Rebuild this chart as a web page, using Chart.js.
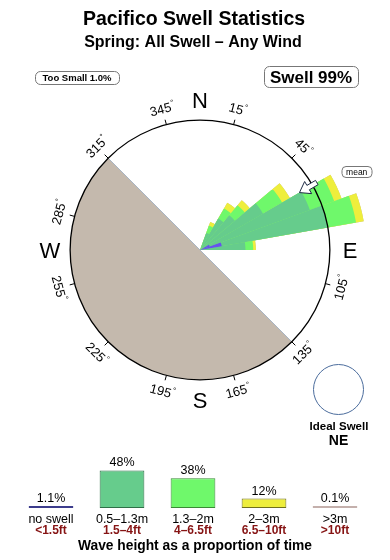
<!DOCTYPE html>
<html>
<head>
<meta charset="utf-8">
<script src="https://cdn.jsdelivr.net/npm/chart.js@4.4.0/dist/chart.umd.min.js"></script>
<style>
  html, body { margin: 0; padding: 0; background: #fff; overflow: hidden; }
  #wrap { position: relative; width: 390px; height: 560px; overflow: hidden; }
  #rose { position: absolute; left: 0; top: 0; }
  #bars { position: absolute; left: 0; top: 440px; }
</style>
</head>
<body>
<div id="wrap">
  <canvas id="rose" width="400" height="501"></canvas>
  <canvas id="bars" width="390" height="120"></canvas>
</div>
<script>
// direction bins (10 degrees each, from north, clockwise)
const directions = [0, 10, 20, 30, 40, 50, 60, 70, 80, 90, 100, 110,
  120, 130, 140, 150, 160, 170, 180, 190, 200, 210, 220, 230,
  240, 250, 260, 270, 280, 290, 300, 310, 320, 330, 340, 350];

// radial length of each height band per bin (compass ring = 100)
const noSwell = [0, 0, 0, 0, 0, 0, 8, 17, 0, 0, 0, 0, 0, 0, 0, 0, 0, 0, 0, 0, 0, 0, 0, 0, 0, 0, 0, 0, 0, 0, 0, 0, 0, 0, 0, 0];
const band1 = [0, 0, 14, 28, 35, 56, 82, 83, 35, 0, 0, 0, 0, 0, 0, 0, 0, 0, 0, 0, 0, 0, 0, 0, 0, 0, 0, 0, 0, 0, 0, 0, 0, 0, 0, 0];
const band2 = [0, 0, 6, 9, 10, 17, 20, 22, 6, 0, 0, 0, 0, 0, 0, 0, 0, 0, 0, 0, 0, 0, 0, 0, 0, 0, 0, 0, 0, 0, 0, 0, 0, 0, 0, 0];
const band3 = [0, 0, 3, 5, 5, 7, 6, 6, 2, 0, 0, 0, 0, 0, 0, 0, 0, 0, 0, 0, 0, 0, 0, 0, 0, 0, 0, 0, 0, 0, 0, 0, 0, 0, 0, 0];
const band4 = [0, 0, 0, 0, 0, 0, 0, 0, 0, 0, 0, 0, 0, 0, 0, 0, 0, 0, 0, 0, 0, 0, 0, 0, 0, 0, 0, 0, 0, 0, 0, 0, 0, 0, 0, 0];

const meanDir = 60;
const landFrom = 135, landTo = 315;
const degTicks = [15, 45, 75, 105, 135, 165, 195, 225, 255, 285, 315, 345];
const compass = ['N', 'E', 'S', 'W'];

// legend: wave height as a proportion of time
const heightBands = ['no swell', '0.5\u20131.3m', '1.3\u20132m', '2\u20133m', '>3m'];
const heightFeet = ['<1.5ft', '1.5\u20134ft', '4\u20136.5ft', '6.5\u201310ft', '>10ft'];
const heightShare = [1.1, 48, 38, 12, 0.1];
const shareLabels = ['1.1%', '48%', '38%', '12%', '0.1%'];

const wedgeColors = ['#6652ee', '#66cc8c', '#6ff86b', '#eeee3c', '#c4b4ac'];
const barColors = ['#3c3c8c', '#66cc8c', '#6ff86b', '#eeee3c', '#c4b0ac'];
const barBorders = ['#3c3c8c', '#2f7048', '#3a8a36', '#70701c', '#c4b0ac'];

const FONT = '"Liberation Sans", Arial, Helvetica, sans-serif';
const RING = 100;

function txt(ctx, s, x, y, font, color, align) {
  ctx.font = font;
  ctx.fillStyle = color || '#000';
  ctx.textAlign = align || 'center';
  ctx.textBaseline = 'alphabetic';
  ctx.fillText(s, x, y);
}

function box(ctx, x, y, w, h, r) {
  ctx.beginPath();
  ctx.roundRect(x + 0.5, y + 0.5, w, h, r);
  ctx.fillStyle = '#fff';
  ctx.fill();
  ctx.strokeStyle = '#777';
  ctx.lineWidth = 1;
  ctx.stroke();
}

// stack the bands so each dataset reaches to the outer edge of its band
const layers = [noSwell, band1, band2, band3, band4];
const stacked = [];
let run = directions.map(() => 0);
layers.forEach(l => {
  run = run.map((v, i) => v + l[i]);
  stacked.push(run.slice());
});

const rad = d => (d - 90) * Math.PI / 180;

const rosePlugin = {
  id: 'rose',
  beforeDatasetsDraw(chart) {
    const ctx = chart.ctx;
    const s = chart.scales.r;
    const cx = s.xCenter, cy = s.yCenter;
    const R = s.getDistanceFromCenterForValue(RING);
    ctx.save();
    // land
    ctx.beginPath();
    ctx.moveTo(cx, cy);
    ctx.arc(cx, cy, R, rad(landFrom), rad(landTo));
    ctx.closePath();
    ctx.fillStyle = '#c4b9ad';
    ctx.fill();
    ctx.beginPath();
    ctx.moveTo(cx + Math.cos(rad(landFrom)) * R, cy + Math.sin(rad(landFrom)) * R);
    ctx.lineTo(cx + Math.cos(rad(landTo)) * R, cy + Math.sin(rad(landTo)) * R);
    ctx.strokeStyle = '#a9b5c4';
    ctx.lineWidth = 1;
    ctx.stroke();

    // ticks and degree labels
    ctx.strokeStyle = '#000';
    degTicks.forEach(d => {
      const a = rad(d);
      ctx.beginPath();
      ctx.moveTo(cx + Math.cos(a) * R, cy + Math.sin(a) * R);
      ctx.lineTo(cx + Math.cos(a) * (R + 5), cy + Math.sin(a) * (R + 5));
      ctx.stroke();
      const lx = cx + Math.cos(a) * 146, ly = cy + Math.sin(a) * 146;
      const rot = ((d + 90) % 180) - 90;
      ctx.save();
      ctx.translate(lx, ly);
      ctx.rotate(rot * Math.PI / 180);
      ctx.font = '13px ' + FONT;
      const w1 = ctx.measureText(String(d)).width;
      ctx.font = '8px ' + FONT;
      const w2 = ctx.measureText('\u00b0').width;
      const x0 = -(w1 + w2) / 2;
      txt(ctx, String(d), x0, 4.5, '13px ' + FONT, '#000', 'left');
      txt(ctx, '\u00b0', x0 + w1 + 0.5, -1, '8px ' + FONT, '#000', 'left');
      ctx.restore();
    });

    // compass letters
    compass.forEach((c, i) => {
      const a = rad(i * 90);
      txt(ctx, c, cx + Math.cos(a) * 150, cy + Math.sin(a) * 150 + 8, '22px ' + FONT);
    });
    ctx.restore();
  },
  afterDatasetsDraw(chart) {
    const ctx = chart.ctx;
    const s = chart.scales.r;
    const cx = s.xCenter, cy = s.yCenter;
    const R = s.getDistanceFromCenterForValue(RING);
    ctx.save();
    ctx.beginPath();
    ctx.arc(cx, cy, R, 0, Math.PI * 2);
    ctx.strokeStyle = '#000';
    ctx.lineWidth = 1.3;
    ctx.stroke();

    // mean direction arrow
    const a = rad(meanDir);
    const ux = Math.cos(a), uy = Math.sin(a);
    const nx = -uy, ny = ux;
    const p = (r, w) => [cx + ux * r + nx * w, cy + uy * r + ny * w];
    const pts = [p(R - 15, 0), p(R - 5, 7), p(R - 5, 2.5), p(R + 5, 2.5),
      p(R + 5, -2.5), p(R - 5, -2.5), p(R - 5, -7)];
    ctx.beginPath();
    pts.forEach((q, i) => i ? ctx.lineTo(q[0], q[1]) : ctx.moveTo(q[0], q[1]));
    ctx.closePath();
    ctx.fillStyle = '#fff';
    ctx.fill();
    ctx.strokeStyle = '#1d2a44';
    ctx.lineWidth = 1;
    ctx.stroke();

    box(ctx, 341.5, 166, 30, 11, 4);
    txt(ctx, 'mean', 356.7, 174.8, '8.5px ' + FONT);
    ctx.restore();
  },
  afterDraw(chart) {
    const ctx = chart.ctx;
    ctx.save();
    txt(ctx, 'Pacifico Swell Statistics', 194, 25, 'bold 19.5px ' + FONT);
    txt(ctx, 'Spring: All Swell \u2013 Any Wind', 193, 47, 'bold 16px ' + FONT);

    box(ctx, 35, 71, 84, 13, 5);
    txt(ctx, 'Too Small 1.0%', 77, 81, 'bold 9.5px ' + FONT);
    box(ctx, 264, 66, 94, 21, 5);
    txt(ctx, 'Swell 99%', 311, 82.5, 'bold 17px ' + FONT);

    // ideal swell marker
    ctx.beginPath();
    ctx.arc(338.5, 389.5, 25, 0, Math.PI * 2);
    ctx.strokeStyle = '#4b6c9c';
    ctx.lineWidth = 1;
    ctx.stroke();
    txt(ctx, 'Ideal Swell', 339, 429.5, 'bold 11.5px ' + FONT);
    txt(ctx, 'NE', 338.5, 445, 'bold 14px ' + FONT);
    ctx.restore();
  }
};

new Chart(document.getElementById('rose'), {
  type: 'polarArea',
  data: {
    labels: directions,
    datasets: layers.map((l, i) => ({
      data: stacked[i],
      backgroundColor: wedgeColors[i],
      borderWidth: 0
    }))
  },
  options: {
    responsive: false,
    animation: false,
    layout: { padding: 0 },
    plugins: { legend: { display: false }, tooltip: { enabled: false } },
    scales: {
      r: { display: false, min: 0, max: 154, startAngle: 0 }
    }
  },
  plugins: [rosePlugin]
});

const barLabels = {
  id: 'barLabels',
  afterDatasetsDraw(chart) {
    const ctx = chart.ctx;
    const meta = chart.getDatasetMeta(0);
    ctx.save();
    meta.data.forEach((bar, i) => {
      const top = Math.min(bar.y, bar.base - 2);
      txt(ctx, shareLabels[i], bar.x, top - 4, '12.5px ' + FONT);
      txt(ctx, heightBands[i], bar.x, 83, '12.5px ' + FONT);
      txt(ctx, heightFeet[i], bar.x, 93.6, 'bold 12px ' + FONT, '#861414');
    });
    txt(ctx, 'Wave height as a proportion of time', 195, 110, 'bold 13.8px ' + FONT);
    ctx.restore();
  }
};

new Chart(document.getElementById('bars'), {
  type: 'bar',
  data: {
    labels: heightBands,
    datasets: [{
      data: heightShare,
      backgroundColor: barColors,
      borderColor: barBorders,
      borderWidth: 1,
      borderSkipped: false,
      minBarLength: 2,
      barPercentage: 0.63,
      categoryPercentage: 1
    }]
  },
  options: {
    responsive: false,
    animation: false,
    layout: { padding: { left: 15.5, right: 19.5, top: 21, bottom: 52 } },
    plugins: { legend: { display: false }, tooltip: { enabled: false } },
    scales: {
      x: { display: false },
      y: { display: false, min: 0, max: 60 }
    }
  },
  plugins: [barLabels]
});
</script>
</body>
</html>
